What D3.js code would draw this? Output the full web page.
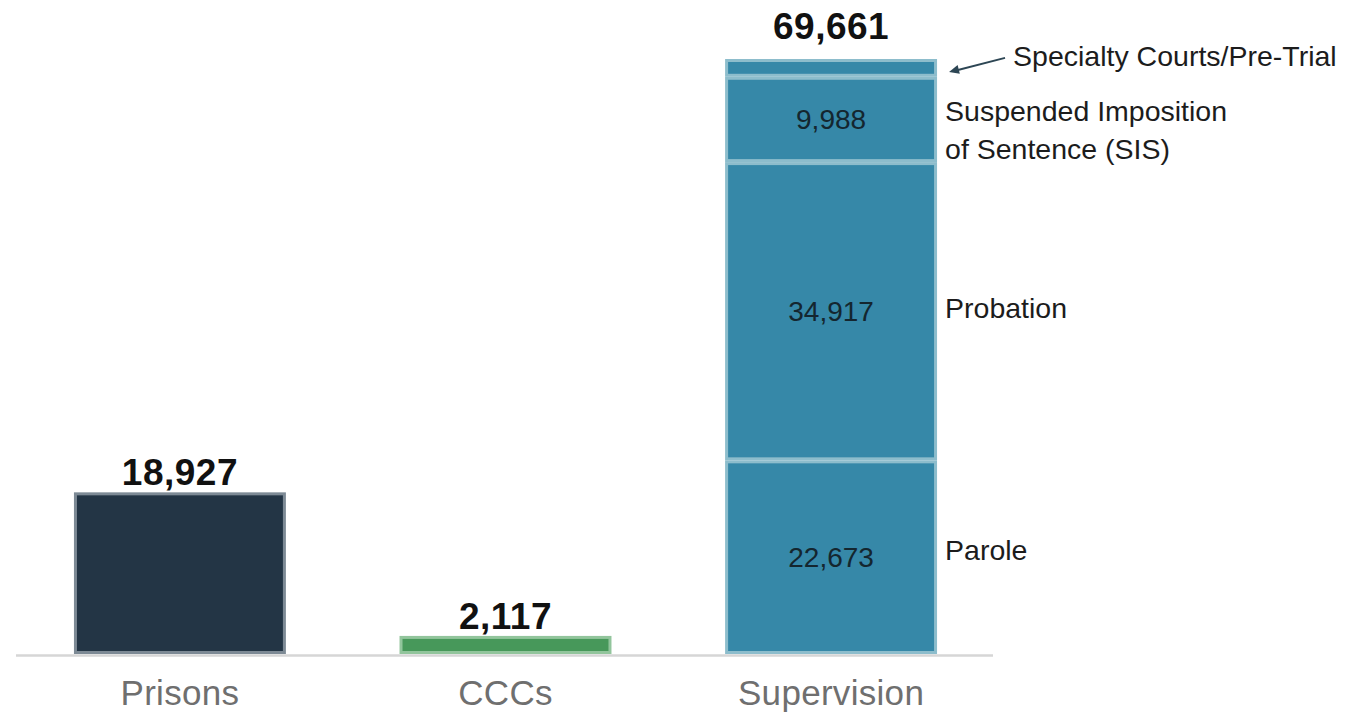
<!DOCTYPE html>
<html>
<head>
<meta charset="utf-8">
<script src="https://cdn.jsdelivr.net/npm/d3@7"></script>
<style>
  html, body { margin: 0; padding: 0; background: #ffffff; }
  svg { display: block; }
  text { font-family: "Liberation Sans", Arial, sans-serif; }
</style>
</head>
<body>
<svg id="chart" width="1362" height="715"></svg>
<script>
// Population by setting
const categories = ["Prisons", "CCCs", "Supervision"];
const singleValues = [18927, 2117, null];

// Supervision broken down by type (bottom to top)
const supervisionTypes = ["Parole", "Probation", "Suspended Imposition of Sentence (SIS)", "Specialty Courts/Pre-Trial"];
const supervisionValues = [22673, 34917, 9988, 2083];
const supervisionLabelLines = [["Parole"], ["Probation"], ["Suspended Imposition", "of Sentence (SIS)"], ["Specialty Courts/Pre-Trial"]];
const supervisionShowValue = [true, true, true, false];

const barFill = { "Prisons": "#233545", "CCCs": "#47985a", "Supervision": "#3688a8" };
const barEdge = { "Prisons": "#7d8a95", "CCCs": "#92c59c", "Supervision": "#8dbdcc" };

const svg = d3.select("#chart");
const baseline = 654;
const topY = 59;
const supervisionTotal = d3.sum(supervisionValues);
const totals = categories.map((c, i) => c === "Supervision" ? supervisionTotal : singleValues[i]);

const x = d3.scaleBand().domain(categories).range([16, 995]).paddingInner(0.349).paddingOuter(0.178);
const y = d3.scaleLinear().domain([0, d3.max(totals)]).range([baseline, topY]);
const fmt = d3.format(",");
const edgeW = 3;

// Baseline rule
svg.append("line")
  .attr("x1", 16).attr("x2", 993)
  .attr("y1", baseline + 1.5).attr("y2", baseline + 1.5)
  .attr("stroke", "#d6d6d6").attr("stroke-width", 2.5);

// Simple bars
const simple = categories.map((c, i) => ({ c, v: singleValues[i] })).filter(d => d.v !== null);
svg.selectAll("rect.simple").data(simple).join("rect")
  .attr("class", "simple")
  .attr("x", d => x(d.c) + edgeW / 2)
  .attr("width", x.bandwidth() - edgeW)
  .attr("y", d => y(d.v) + edgeW / 2)
  .attr("height", d => y(0) - y(d.v) - edgeW)
  .attr("fill", d => barFill[d.c])
  .attr("stroke", d => barEdge[d.c])
  .attr("stroke-width", edgeW);

// Stacked supervision bar
const stack = [];
let acc = 0;
supervisionValues.forEach((v, i) => { stack.push({ i, v, y0: acc, y1: acc + v }); acc += v; });
const sx = x("Supervision");
svg.selectAll("rect.seg").data(stack).join("rect")
  .attr("class", "seg")
  .attr("x", sx + edgeW / 2)
  .attr("width", x.bandwidth() - edgeW)
  .attr("y", d => y(d.y1) + edgeW / 2)
  .attr("height", d => y(d.y0) - y(d.y1) - edgeW)
  .attr("fill", barFill.Supervision)
  .attr("stroke", barEdge.Supervision)
  .attr("stroke-width", edgeW);

// Values inside segments
svg.selectAll("text.segval").data(stack.filter(d => supervisionShowValue[d.i])).join("text")
  .attr("class", "segval")
  .attr("x", sx + x.bandwidth() / 2)
  .attr("y", d => (y(d.y0) + y(d.y1)) / 2 + 10)
  .attr("text-anchor", "middle")
  .attr("font-size", 28)
  .attr("fill", "#14262f")
  .text(d => fmt(d.v));

// Segment names to the right of the bar
const nameX = sx + x.bandwidth() + 8;
const lineGap = 38;
const nameNudge = [3, 7, 2, 0];
stack.forEach(d => {
  const lines = supervisionLabelLines[d.i];
  const cy = (y(d.y0) + y(d.y1)) / 2;
  const isCallout = d.i === stack.length - 1;
  const tx = isCallout ? nameX + 68 : nameX;
  const base = isCallout ? cy - 2 : cy + nameNudge[d.i];
  const t = svg.append("text")
    .attr("x", tx)
    .attr("y", base)
    .attr("font-size", 28.5)
    .attr("fill", "#1c1c1c");
  lines.forEach((ln, k) => {
    t.append("tspan").attr("x", tx).attr("y", base + k * lineGap).text(ln);
  });
  if (isCallout) {
    // Leader arrow from the callout text back to the thin top segment
    const ax0 = tx - 8, ay0 = base - 8;
    const ax1 = sx + x.bandwidth() + 12, ay1 = cy + 4;
    svg.append("line")
      .attr("x1", ax0).attr("y1", ay0).attr("x2", ax1 + 6).attr("y2", ay1 - 1.2)
      .attr("stroke", "#2d4654").attr("stroke-width", 2);
    const ang = Math.atan2(ay1 - ay0, ax1 - ax0);
    const hl = 10, hw = 4.5;
    const bx = ax1 - Math.cos(ang) * hl, by = ay1 - Math.sin(ang) * hl;
    const px = -Math.sin(ang) * hw, py = Math.cos(ang) * hw;
    svg.append("path")
      .attr("d", `M${ax1},${ay1}L${bx + px},${by + py}L${bx - px},${by - py}Z`)
      .attr("fill", "#2d4654");
  }
});

// Totals above bars
const totalGap = { "Prisons": 7, "CCCs": 7, "Supervision": 20 };
svg.selectAll("text.total").data(categories.map((c, i) => ({ c, v: totals[i] }))).join("text")
  .attr("class", "total")
  .attr("x", d => x(d.c) + x.bandwidth() / 2)
  .attr("y", d => y(d.v) - totalGap[d.c])
  .attr("text-anchor", "middle")
  .attr("font-size", 37)
  .attr("font-weight", "bold")
  .attr("letter-spacing", 0.5)
  .attr("fill", "#111111")
  .text(d => fmt(d.v));

// Category axis labels
svg.selectAll("text.cat").data(categories).join("text")
  .attr("class", "cat")
  .attr("x", d => x(d) + x.bandwidth() / 2)
  .attr("y", 705)
  .attr("text-anchor", "middle")
  .attr("font-size", 35)
  .attr("letter-spacing", 0.3)
  .attr("fill", "#6f6f6f")
  .text(d => d);
</script>
</body>
</html>
